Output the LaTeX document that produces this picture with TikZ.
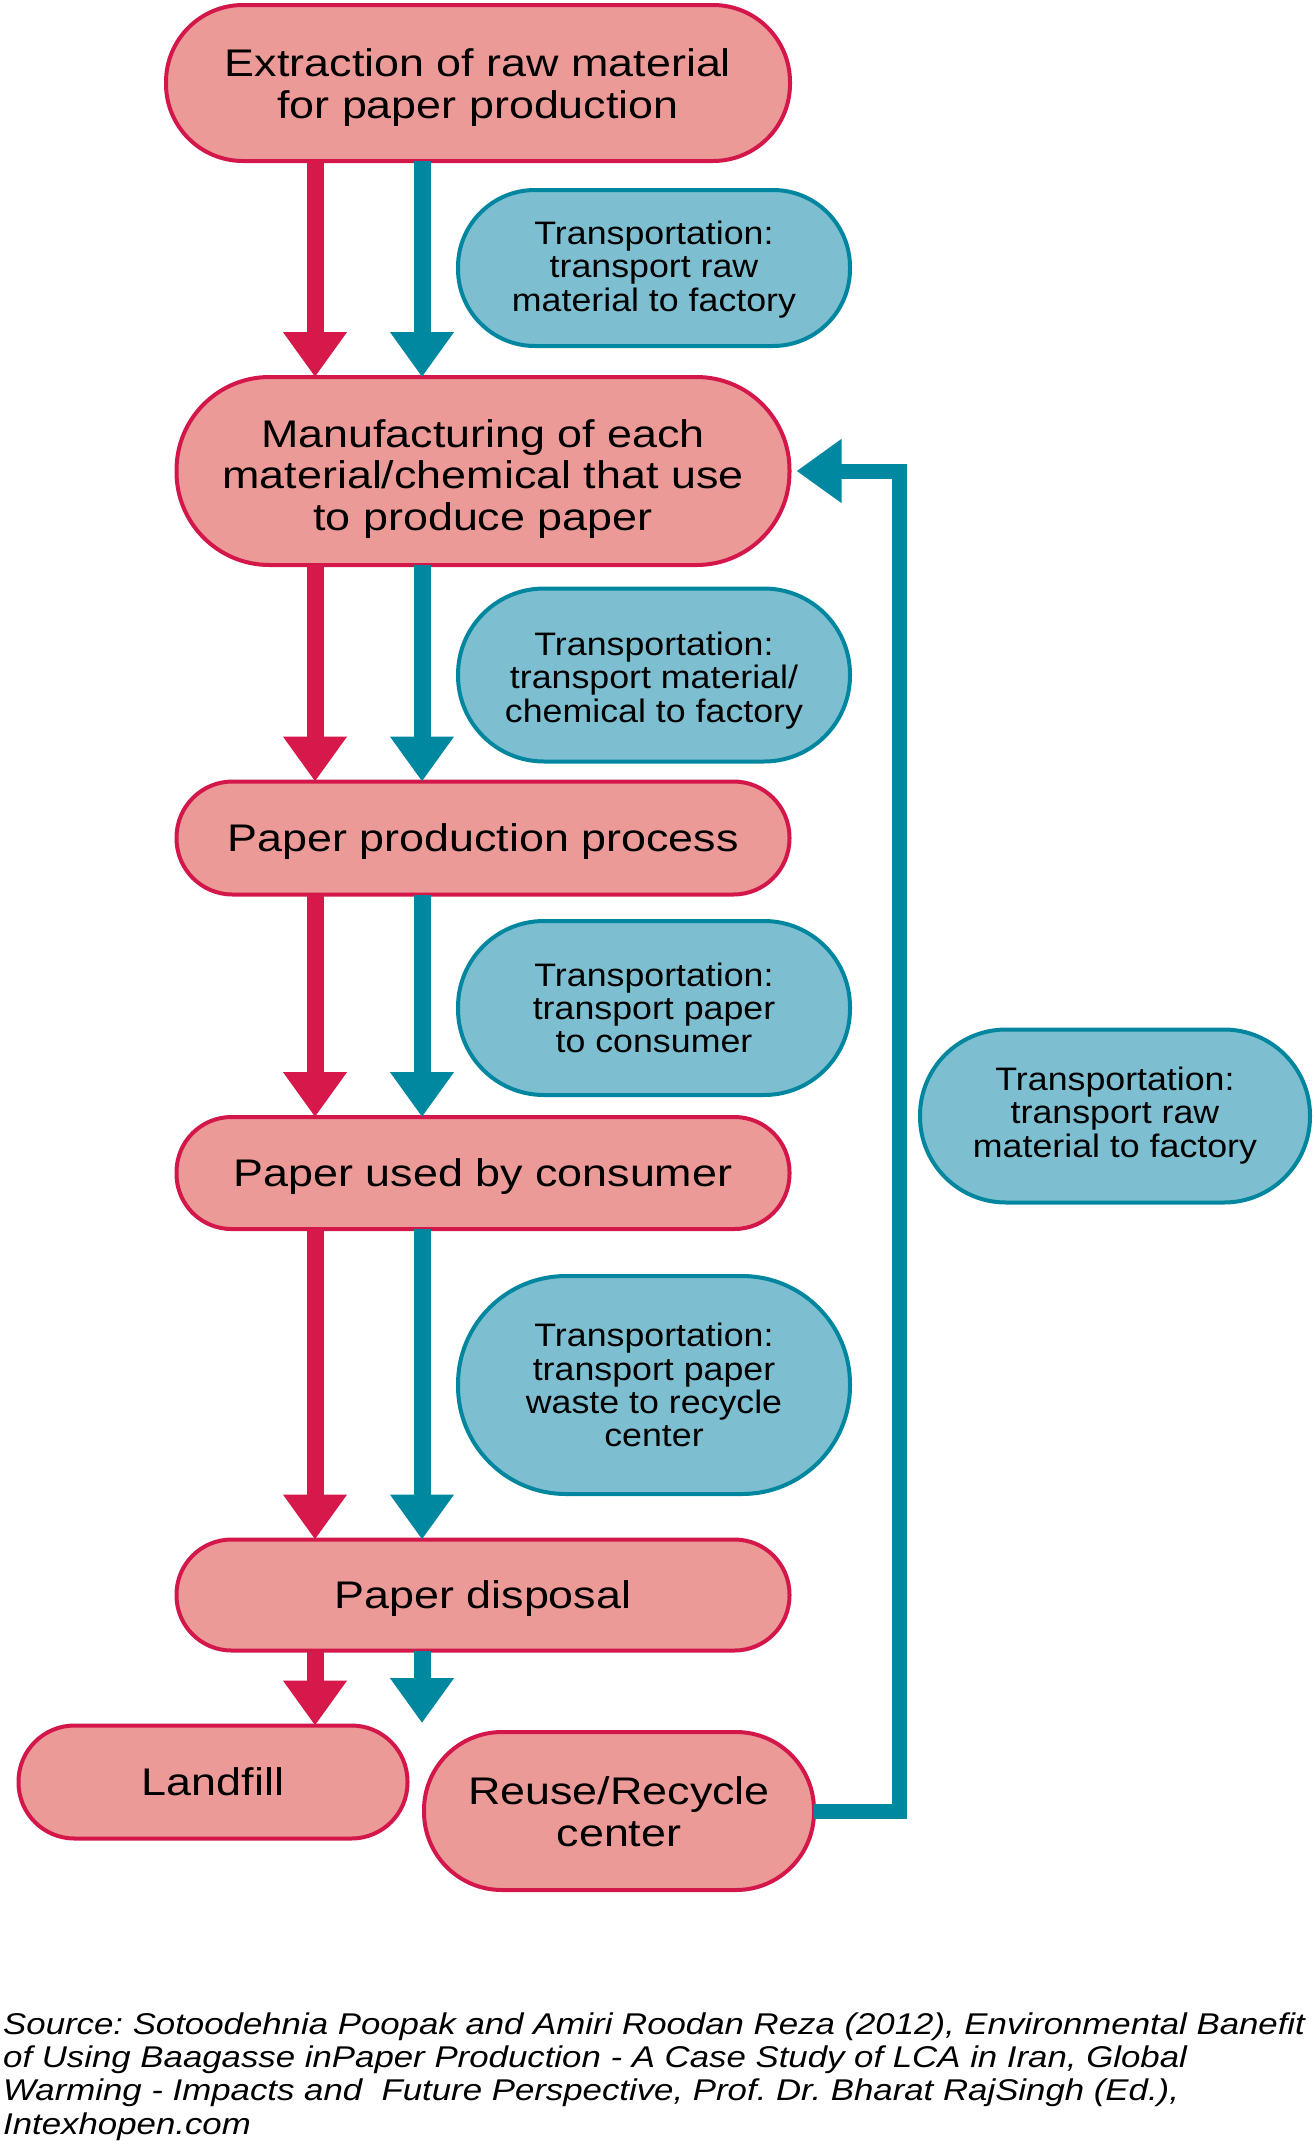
\documentclass[tikz,border=0pt]{standalone}
\usepackage{fontspec}
\setmainfont{Liberation Sans}
\newfontfamily\nodefont[FakeStretch=1.165]{Liberation Sans}
\newfontfamily\tranfont[FakeStretch=1.10]{Liberation Sans}
\newfontfamily\srcfont[FakeStretch=1.16]{Liberation Sans}
\usetikzlibrary{arrows.meta}
\definecolor{pfill}{HTML}{EB9A97}
\definecolor{pdraw}{HTML}{D4174A}
\definecolor{bfill}{HTML}{7DBFD1}
\definecolor{bdraw}{HTML}{00879F}
\definecolor{redar}{HTML}{D6184A}
\definecolor{bluear}{HTML}{0088A1}
\newcommand\stackc[1]{\vbox{\halign{\hfil##\hfil\cr#1\crcr}}}
\newcommand\stackleft[1]{\vbox{\halign{##\hfil\cr#1\crcr}}}
\tikzset{
 box/.style={line width=4pt, inner sep=0pt, outer sep=0pt, text depth=0pt},
 pbox/.style={box, draw=pdraw, fill=pfill, font=\nodefont\fontsize{38.5}{41.5}\selectfont},
 tbox/.style={box, draw=bdraw, fill=bfill, font=\tranfont\fontsize{32.5}{33.3}\selectfont},
 p1/.style={text height=27.5pt}, p2/.style={text height=70pt}, p3/.style={text height=118pt},
 t3/.style={text height=89.9pt}, t4/.style={text height=123.2pt},
 redarrow/.style={draw=redar, line width=17pt, -{Triangle[width=61pt,length=45pt]}},
 bluearrow/.style={draw=bluear, line width=17pt, -{Triangle[width=61pt,length=45pt]}},
 blueline/.style={draw=bluear, line width=15pt, line join=miter, -{Triangle[width=61pt,length=45pt]}},
 srcnote/.style={anchor=base west, inner sep=0pt, font=\srcfont\itshape\fontsize{30}{33.3}\selectfont},
}
\begin{document}
\frenchspacing
\begin{tikzpicture}[x=1pt,y=-1pt]
\useasboundingbox (0,0) rectangle (1315,2147);
% main process nodes
\node[pbox, p2, minimum width=624pt, minimum height=156pt, rounded corners=77pt] (n1) at (478,83) {\stackc{Extraction of raw material\cr for paper production}};
\node[pbox, p3, minimum width=613pt, minimum height=188pt, rounded corners=93pt] (n2) at (483,471) {\stackc{Manufacturing of each\cr material/chemical that use\cr to produce paper}};
\node[pbox, p1, minimum width=613pt, minimum height=113pt, rounded corners=56pt] (n3) at (483,838) {Paper production process};
\node[pbox, p1, minimum width=613pt, minimum height=112pt, rounded corners=55pt] (n4) at (483,1173) {Paper used by consumer};
\node[pbox, p1, minimum width=613pt, minimum height=111pt, rounded corners=55pt] (n5) at (483,1595) {Paper disposal};
\node[pbox, p1, minimum width=389pt, minimum height=113pt, rounded corners=56pt] (land) at (213,1782) {Landfill};
\node[pbox, p2, minimum width=390pt, minimum height=158pt, rounded corners=78pt] (rec) at (619,1811) {\stackc{Reuse/Recycle\cr center}};
% transport nodes
\node[tbox, t3, text height=86pt, minimum width=392pt, minimum height=156pt, rounded corners=77pt] (t1) at (654,268) {\stackc{Transportation:\cr transport raw\cr material to factory}};
\node[tbox, t3, text height=94pt, minimum width=392pt, minimum height=173pt, rounded corners=86pt] (t2) at (654,675) {\stackc{Transportation:\cr transport material/\cr chemical to factory}};
\node[tbox, t3, minimum width=392pt, minimum height=174pt, rounded corners=86pt] (t3) at (654,1008) {\stackc{Transportation:\cr transport paper\cr to consumer}};
\node[tbox, t4, minimum width=392pt, minimum height=218pt, rounded corners=108pt] (t4) at (654,1385) {\stackc{Transportation:\cr transport paper\cr waste to recycle\cr center}};
\node[tbox, t3, text height=82pt, minimum width=390pt, minimum height=173pt, rounded corners=86pt] (t5) at (1115,1116) {\stackc{Transportation:\cr transport raw\cr material to factory}};
% arrow columns
\coordinate (rx) at (315,0);
\coordinate (bx) at (422,0);
\coordinate (fbx) at (899,0);
\coordinate (bend) at (422,1723);
\draw[redarrow] (n1.south -| rx) -- (n2.north -| rx);
\draw[bluearrow] (n1.south -| bx) -- (n2.north -| bx);
\draw[redarrow] (n2.south -| rx) -- (n3.north -| rx);
\draw[bluearrow] (n2.south -| bx) -- (n3.north -| bx);
\draw[redarrow] (n3.south -| rx) -- (n4.north -| rx);
\draw[bluearrow] (n3.south -| bx) -- (n4.north -| bx);
\draw[redarrow] (n4.south -| rx) -- (n5.north -| rx);
\draw[bluearrow] (n4.south -| bx) -- (n5.north -| bx);
\draw[redarrow] (n5.south -| rx) -- (land.north -| rx);
\draw[bluearrow] (n5.south -| bx) -- (bend);
% feedback loop
\draw[blueline] (rec.east) -- (rec.east -| fbx) -- (fbx |- n2.east) -- ([xshift=7pt]n2.east);
% source
\node[srcnote] (src) at (3,2134) {\stackleft{Source: Sotoodehnia Poopak and Amiri Roodan Reza (2012), Environmental Banefit\cr of Using Baagasse inPaper Production - A Case Study of LCA in Iran, Global\cr Warming - Impacts and\ \ Future Perspective, Prof. Dr. Bharat RajSingh (Ed.),\cr Intexhopen.com}};
\end{tikzpicture}
\end{document}
